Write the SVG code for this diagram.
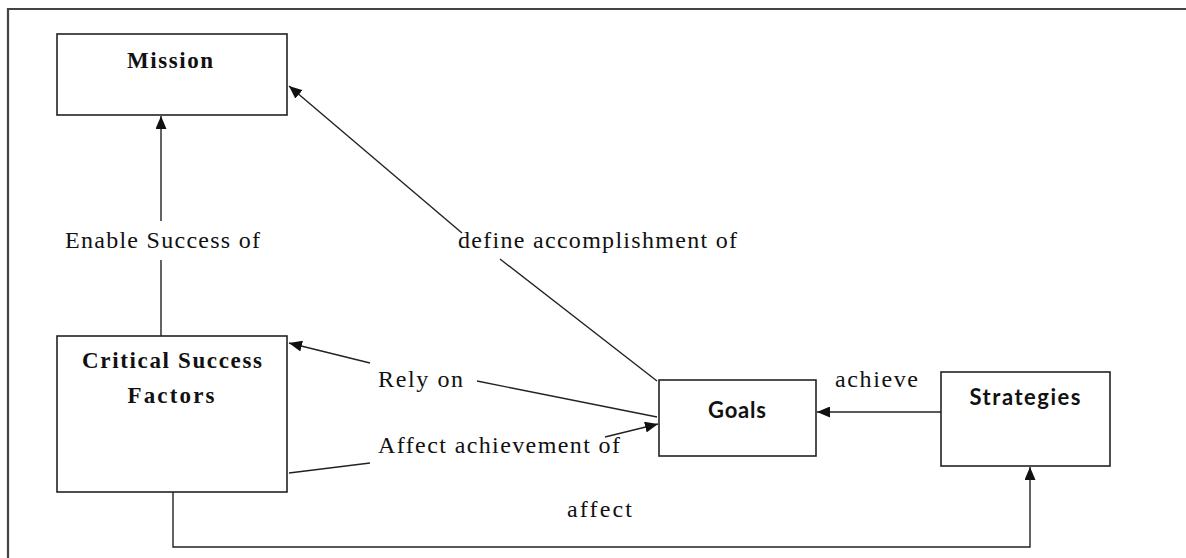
<svg xmlns="http://www.w3.org/2000/svg" width="1186" height="558" viewBox="0 0 1186 558">
<style>
.box{fill:#fff;stroke:#222;stroke-width:1.6}
.ln{fill:none;stroke:#222;stroke-width:1.4}
.lbl{font-family:"Liberation Serif","Times New Roman",serif;font-size:24px;fill:#111}
.ttl{font-family:"Liberation Serif","Times New Roman",serif;font-size:23px;font-weight:bold;fill:#111}
.sans{font-family:Lato,"Liberation Sans",sans-serif;font-size:22px;font-weight:bold;fill:#111}
.frame{fill:none;stroke:#444;stroke-width:2.2}
</style>
<defs>
<marker id="arr" viewBox="0 0 13 11" refX="13" refY="5.5" markerWidth="13" markerHeight="11" markerUnits="userSpaceOnUse" orient="auto">
<path d="M0,0 L13,5.5 L0,11 Z" fill="#111"/>
</marker>
</defs>
<path class="frame" d="M8,558 L8,9 L1186,9"/>
<g id="mission">
<rect class="box" x="57" y="34" width="230" height="81"/>
<text class="ttl" x="170" y="68" text-anchor="middle" textLength="86" lengthAdjust="spacing">Mission</text>
</g>
<g id="csf">
<rect class="box" x="57" y="336" width="230" height="156"/>
<text class="ttl" x="172" y="368" text-anchor="middle" textLength="180" lengthAdjust="spacing">Critical Success</text>
<text class="ttl" x="171" y="403" text-anchor="middle" textLength="87" lengthAdjust="spacing">Factors</text>
</g>
<g id="goals">
<rect class="box" x="659" y="380" width="157" height="76"/>
<text class="sans" x="737" y="418" text-anchor="middle" textLength="58" lengthAdjust="spacing">Goals</text>
</g>
<g id="strategies">
<rect class="box" x="941" y="372" width="169" height="94"/>
<text class="sans" x="1025" y="405" text-anchor="middle" textLength="111" lengthAdjust="spacing">Strategies</text>
</g>
<g id="connectors">
<line class="ln" x1="161" y1="221" x2="161" y2="116" marker-end="url(#arr)"/>
<line class="ln" x1="161" y1="336" x2="161" y2="260"/>
<line class="ln" x1="462" y1="233" x2="289" y2="86" marker-end="url(#arr)"/>
<line class="ln" x1="657" y1="381" x2="500" y2="259"/>
<line class="ln" x1="370" y1="363" x2="289" y2="343" marker-end="url(#arr)"/>
<line class="ln" x1="657" y1="417" x2="477" y2="381"/>
<line class="ln" x1="289" y1="473" x2="370" y2="463"/>
<line class="ln" x1="605" y1="437" x2="658" y2="424" marker-end="url(#arr)"/>
<line class="ln" x1="941" y1="412" x2="817" y2="412" marker-end="url(#arr)"/>
<polyline class="ln" points="173,492 173,547 1030,547 1030,467" marker-end="url(#arr)"/>
</g>
<g id="labels">
<text class="lbl" x="65" y="248" textLength="195" lengthAdjust="spacing">Enable Success of</text>
<text class="lbl" x="458" y="248" textLength="279" lengthAdjust="spacing">define accomplishment of</text>
<text class="lbl" x="378" y="387" textLength="85" lengthAdjust="spacing">Rely on</text>
<text class="lbl" x="378" y="453" textLength="242" lengthAdjust="spacing">Affect achievement of</text>
<text class="lbl" x="835" y="387" textLength="83" lengthAdjust="spacing">achieve</text>
<text class="lbl" x="567" y="517" textLength="65" lengthAdjust="spacing">affect</text>
</g>
</svg>
